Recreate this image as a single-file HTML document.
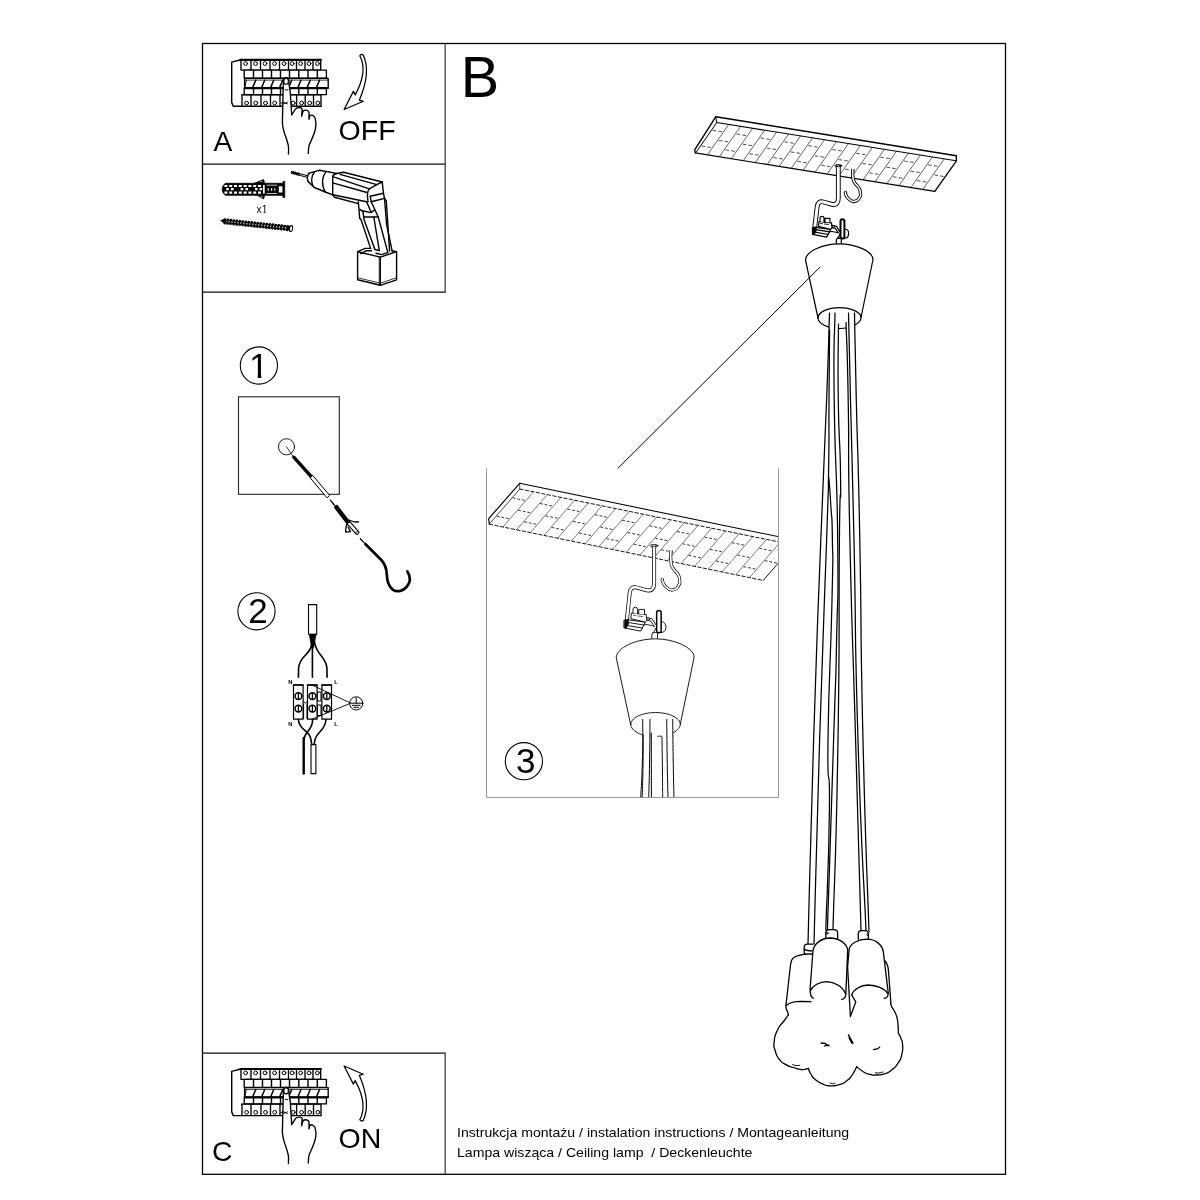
<!DOCTYPE html>
<html lang="pl"><head><meta charset="utf-8"><title>Instrukcja montażu</title>
<style>
html,body{margin:0;padding:0;background:#fff;}
body{width:1200px;height:1200px;overflow:hidden;font-family:"Liberation Sans",sans-serif;}
svg{display:block;position:absolute;left:0;top:0;filter:grayscale(1);}
svg text{font-family:"Liberation Sans",sans-serif;fill:#000;}
.k{fill:none;stroke:#000;stroke-linecap:round;stroke-linejoin:round;}
.w{fill:#fff;stroke:#000;stroke-linecap:round;stroke-linejoin:round;}
.b{fill:#000;stroke:#000;stroke-linejoin:round;}
</style></head><body>
<svg width="1200" height="1200" viewBox="0 0 1200 1200">
<!-- p_frame -->
<rect x="202.5" y="43.5" width="803" height="1130.8" fill="none" stroke="#000" stroke-width="1.3"/>
<path d="M202.5 164.2H445.2M202.5 292.2H445.8M202.5 1053.2H445.8" fill="none" stroke="#111" stroke-width="1.2"/>
<path d="M445.2 43.5V292.6M445.2 1053.2V1174" fill="none" stroke="#444" stroke-width="1.3"/>
<text x="213.5" y="150.5" font-size="28.2">A</text>
<text x="338.6" y="139.8" font-size="28.5">OFF</text>
<text x="212" y="1161.1" font-size="28.3">C</text>
<text x="338.6" y="1147.9" font-size="28.5">ON</text>
<text x="460.7" y="97.1" font-size="57.6">B</text>
<text x="457" y="1137.3" font-size="13.3" textLength="392.2" lengthAdjust="spacingAndGlyphs">Instrukcja montażu / instalation instructions / Montageanleitung</text>
<text x="457" y="1156.6" font-size="13.3" textLength="295.4" lengthAdjust="spacingAndGlyphs" xml:space="preserve">Lampa wisząca / Ceiling lamp  / Deckenleuchte</text>
<!-- p_breaker -->
<g transform="translate(0,0)">
<path class="k" stroke-width="1.4" d="M241 59.7 L231.7 62.1 L231.7 102.6 L233.3 106.3 L321 106.3"/>
<rect class="w" stroke-width="1.35" x="241" y="60" width="79.7" height="10.1"/>
<path class="k" stroke-width="2" d="M240.3 59.7H320.9"/>
<path class="k" stroke-width="1.35" d="M251 60V70M260.5 60V70M270 60V70M279.5 60V70M288.5 60V70M296.5 60V70M305 60V70M313 60V70"/>
<circle class="w" stroke-width="1" cx="245.6" cy="63.6" r="1.9"/>
<circle class="w" stroke-width="1" cx="255.6" cy="63.6" r="1.9"/>
<circle class="w" stroke-width="1" cx="265" cy="63.6" r="1.9"/>
<circle class="w" stroke-width="1" cx="274.6" cy="63.6" r="1.9"/>
<circle class="w" stroke-width="1" cx="284" cy="63.6" r="1.9"/>
<circle class="w" stroke-width="1" cx="292.2" cy="63.6" r="1.9"/>
<circle class="w" stroke-width="1" cx="300.6" cy="63.6" r="1.9"/>
<circle class="w" stroke-width="1" cx="309" cy="63.6" r="1.9"/>
<circle class="w" stroke-width="1" cx="317.4" cy="63.6" r="1.9"/>
<rect class="w" stroke-width="1.35" x="244.2" y="70.1" width="82.2" height="8"/>
<path class="k" stroke-width="1.4" d="M253.5 70.5V78M262.5 70.5V78M271.5 70.5V78M280.5 70.5V78M289.5 70.5V78M298.8 70.5V78M308 70.5V78M317.3 70.5V78"/>
<rect class="w" stroke-width="1.35" x="244.6" y="78.3" width="83.6" height="9.6"/>
<path class="k" stroke-width="0.8" stroke="#555" d="M245 80.1H328"/>
<path class="k" stroke-width="1.5" d="M255.7 80.2L252.7 87.4M264.7 80.2L261.7 87.4M273.7 80.2L270.7 87.4M282.7 80.2L279.7 87.4M291.7 80.2L288.7 87.4M301.0 80.2L298.0 87.4M310.2 80.2L307.2 87.4M319.5 80.2L316.5 87.4"/>
<path class="k" stroke-width="1" d="M246.3 80.2L244.8 87.4"/>
<path class="k" stroke-width="1.9" d="M244.6 87.9H328"/>
<rect class="w" stroke-width="1.35" x="244.2" y="88.6" width="82.2" height="6"/>
<path class="k" stroke-width="1.4" d="M253.5 89V94.4M262.5 89V94.4M271.5 89V94.4M280.5 89V94.4M289.5 89V94.4M298.8 89V94.4M308 89V94.4M317.3 89V94.4"/>
<path class="k" stroke-width="1.35" d="M241.6 94.8H321V106.3"/>
<path class="k" stroke-width="1.35" d="M242 95V106M251 95V106M261 95V106M270.5 95V106M280 95V106M289.5 95V106M296.6 95V106M305.2 95V106M313.5 95V106"/>
<circle class="w" stroke-width="1" cx="246.6" cy="103" r="1.9"/>
<circle class="w" stroke-width="1" cx="255.7" cy="103" r="1.9"/>
<circle class="w" stroke-width="1" cx="265.5" cy="103" r="1.9"/>
<circle class="w" stroke-width="1" cx="274.7" cy="103" r="1.9"/>
<circle class="w" stroke-width="1" cx="284.2" cy="103" r="1.9"/>
<circle class="w" stroke-width="1" cx="293.2" cy="103" r="1.9"/>
<circle class="w" stroke-width="1" cx="301.6" cy="103" r="1.9"/>
<circle class="w" stroke-width="1" cx="309.7" cy="103" r="1.9"/>
<circle class="w" stroke-width="1" cx="317.9" cy="103" r="1.9"/>
</g>
<g transform="translate(0,0)">
<path class="w" stroke-width="1.35" d="M288.4 154 C288.9 147 288.6 145.5 286.5 139 C284.5 133 282.4 129 282.4 122 L283.3 84 C283.3 75.3 289 75.3 289 84 L290.3 92.5 L291.7 115 L295.5 109 C297.5 107.2 301 106.8 302.2 109 L301.6 116.3 L303 111.3 C304.5 109.6 307.6 109.8 309 112 L309 119.3 L309.8 115.7 C311.5 114.3 314 115.6 315 118 C316 121 316.3 124.5 315.6 128 C314.5 134 311 141 309.2 145 C308.3 148 308.3 150 308.3 153.4"/>
<ellipse class="w" stroke-width="1.1" cx="286.1" cy="81.2" rx="2.3" ry="3.1"/>
<path class="k" stroke-width="1" d="M285.2 89.8Q286.6 90.6 288 89.8"/>
<path class="k" stroke-width="0.9" d="M283.6 102.3l3.8 1.5m0-1.5l-3.8 1.5M282.3 103h-1.2"/>
</g>
<path class="w" stroke-width="1.25" d="M359.8 55.8 Q361.4 53.4 363.3 55.3 Q371.3 72.3 359.3 100.2 L363.3 101.3 L344.1 109.5 L353.4 91.4 L355.2 94.9 Q368.1 71.3 359.8 55.8 Z"/>
<g transform="translate(0,1009.3)">
<path class="k" stroke-width="1.4" d="M241 59.7 L231.7 62.1 L231.7 102.6 L233.3 106.3 L321 106.3"/>
<rect class="w" stroke-width="1.35" x="241" y="60" width="79.7" height="10.1"/>
<path class="k" stroke-width="2" d="M240.3 59.7H320.9"/>
<path class="k" stroke-width="1.35" d="M251 60V70M260.5 60V70M270 60V70M279.5 60V70M288.5 60V70M296.5 60V70M305 60V70M313 60V70"/>
<circle class="w" stroke-width="1" cx="245.6" cy="63.6" r="1.9"/>
<circle class="w" stroke-width="1" cx="255.6" cy="63.6" r="1.9"/>
<circle class="w" stroke-width="1" cx="265" cy="63.6" r="1.9"/>
<circle class="w" stroke-width="1" cx="274.6" cy="63.6" r="1.9"/>
<circle class="w" stroke-width="1" cx="284" cy="63.6" r="1.9"/>
<circle class="w" stroke-width="1" cx="292.2" cy="63.6" r="1.9"/>
<circle class="w" stroke-width="1" cx="300.6" cy="63.6" r="1.9"/>
<circle class="w" stroke-width="1" cx="309" cy="63.6" r="1.9"/>
<circle class="w" stroke-width="1" cx="317.4" cy="63.6" r="1.9"/>
<rect class="w" stroke-width="1.35" x="244.2" y="70.1" width="82.2" height="8"/>
<path class="k" stroke-width="1.4" d="M253.5 70.5V78M262.5 70.5V78M271.5 70.5V78M280.5 70.5V78M289.5 70.5V78M298.8 70.5V78M308 70.5V78M317.3 70.5V78"/>
<rect class="w" stroke-width="1.35" x="244.6" y="78.3" width="83.6" height="9.6"/>
<path class="k" stroke-width="0.8" stroke="#555" d="M245 80.1H328"/>
<path class="k" stroke-width="1.5" d="M255.7 80.2L252.7 87.4M264.7 80.2L261.7 87.4M273.7 80.2L270.7 87.4M282.7 80.2L279.7 87.4M291.7 80.2L288.7 87.4M301.0 80.2L298.0 87.4M310.2 80.2L307.2 87.4M319.5 80.2L316.5 87.4"/>
<path class="k" stroke-width="1" d="M246.3 80.2L244.8 87.4"/>
<path class="k" stroke-width="1.9" d="M244.6 87.9H328"/>
<rect class="w" stroke-width="1.35" x="244.2" y="88.6" width="82.2" height="6"/>
<path class="k" stroke-width="1.4" d="M253.5 89V94.4M262.5 89V94.4M271.5 89V94.4M280.5 89V94.4M289.5 89V94.4M298.8 89V94.4M308 89V94.4M317.3 89V94.4"/>
<path class="k" stroke-width="1.35" d="M241.6 94.8H321V106.3"/>
<path class="k" stroke-width="1.35" d="M242 95V106M251 95V106M261 95V106M270.5 95V106M280 95V106M289.5 95V106M296.6 95V106M305.2 95V106M313.5 95V106"/>
<circle class="w" stroke-width="1" cx="246.6" cy="103" r="1.9"/>
<circle class="w" stroke-width="1" cx="255.7" cy="103" r="1.9"/>
<circle class="w" stroke-width="1" cx="265.5" cy="103" r="1.9"/>
<circle class="w" stroke-width="1" cx="274.7" cy="103" r="1.9"/>
<circle class="w" stroke-width="1" cx="284.2" cy="103" r="1.9"/>
<circle class="w" stroke-width="1" cx="293.2" cy="103" r="1.9"/>
<circle class="w" stroke-width="1" cx="301.6" cy="103" r="1.9"/>
<circle class="w" stroke-width="1" cx="309.7" cy="103" r="1.9"/>
<circle class="w" stroke-width="1" cx="317.9" cy="103" r="1.9"/>
</g>
<g transform="translate(0,1009.6)">
<path class="w" stroke-width="1.35" d="M288.4 154 C288.9 147 288.6 145.5 286.5 139 C284.5 133 282.4 129 282.4 122 L283.3 84 C283.3 75.3 289 75.3 289 84 L290.3 92.5 L291.7 115 L295.5 109 C297.5 107.2 301 106.8 302.2 109 L301.6 116.3 L303 111.3 C304.5 109.6 307.6 109.8 309 112 L309 119.3 L309.8 115.7 C311.5 114.3 314 115.6 315 118 C316 121 316.3 124.5 315.6 128 C314.5 134 311 141 309.2 145 C308.3 148 308.3 150 308.3 153.4"/>
<ellipse class="w" stroke-width="1.1" cx="286.1" cy="81.2" rx="2.3" ry="3.1"/>
<path class="k" stroke-width="1" d="M285.2 89.8Q286.6 90.6 288 89.8"/>
<path class="k" stroke-width="0.9" d="M283.6 102.3l3.8 1.5m0-1.5l-3.8 1.5M282.3 103h-1.2"/>
</g>
<path class="w" stroke-width="1.25" d="M359.8 55.8 Q361.4 53.4 363.3 55.3 Q371.3 72.3 359.3 100.2 L363.3 101.3 L344.1 109.5 L353.4 91.4 L355.2 94.9 Q368.1 71.3 359.8 55.8 Z" transform="matrix(1 0 0 -1 0 1175.5)"/>
<!-- p_tools -->
<g>
<path class="b" stroke-width="0.8" d="M225.5 183.3 H283 V195.3 H225.5 C223.5 194 222.2 191.8 222.2 189.3 C222.2 186.8 223.5 184.6 225.5 183.3 Z"/>
<rect class="b" stroke-width="0.6" x="282.9" y="181.4" width="1.9" height="16.1"/>
<path class="b" stroke-width="0.8" d="M254 183.4 L263.7 179.6 L264.6 183.4 Z M257 195.2 L263.7 199 L264.6 195.2 Z"/>
<path fill="#fff" d="M224.4 184.9h3v2.1h-3z M224.4 191.6h3v2.1h-3z M229.2 184.9h3v2.1h-3z M229.2 191.6h3v2.1h-3z M234 184.9h3v2.1h-3z M234 191.6h3v2.1h-3z M238.8 184.9h3v2.1h-3z M238.8 191.6h3v2.1h-3z M243.6 184.9h3v2.1h-3z M243.6 191.6h3v2.1h-3z M248.4 184.9h3v2.1h-3z M248.4 191.6h3v2.1h-3z M253.2 184.9h3v2.1h-3z M253.2 191.6h3v2.1h-3z M258 184.9h3v2.1h-3z M258 191.6h3v2.1h-3z M226.2 188.1h2.6v2.2h-2.6z M231 188.1h2.6v2.2h-2.6z M240.6 188.1h2.6v2.2h-2.6z M245.4 188.1h2.6v2.2h-2.6z M255 188.1h2.6v2.2h-2.6z M259.6 188.1h2.6v2.2h-2.6z M263 184.9h1.7v8.6h-1.7z M278.8 186.3h3.6v6.2h-3.6z M267.6 188.2h1.2v2.6h-1.2z M271 188.2h1.2v2.6h-1.2z M274.3 188.2h1v2.6h-1z M266.6 184.8h10.5v0.8h-10.5z M266.6 193h10.5v0.8h-10.5z M259.5 181.9l2.6-1v1.2z M260 196.6l2.4 1.2v-1.3z"/>
</g>
<clipPath id="cx1"><path d="M250 200 H270 V211.7 H265.5 V214 H263.5 V211.7 H261.8 V214 H250 Z"/></clipPath>
<text x="256.6" y="213.1" font-size="10.2" clip-path="url(#cx1)">x1</text>
<path d="M220.2 220.6 L224.6 218.4 L225 224.2 Z" fill="#000"/>
<path d="M223.8 221.2 L290.6 228.4" fill="none" stroke="#000" stroke-width="6" stroke-dasharray="2.2 0.8"/>
<path d="M224 221.2 L290 228.3" fill="none" stroke="#000" stroke-width="4"/>
<path d="M226 221.4 L288 228.1" fill="none" stroke="#fff" stroke-width="1.6" stroke-dasharray="1 2" stroke-dashoffset="0.5"/>
<ellipse cx="291.1" cy="228.5" rx="1.5" ry="3.1" transform="rotate(8 291.1 228.5)" fill="#fff" stroke="#000" stroke-width="1"/>
<g class="k" stroke-width="1.4">
<path stroke-width="3.2" stroke-dasharray="1.2 0.5" stroke-linecap="butt" d="M291.2 172.2 L299 174.3"/>
<path stroke-width="2" d="M291.8 172.4 L298.7 174.2"/>
<path stroke-width="1" d="M298.7 173.4 L307.6 175.7 M298.4 175 L307.3 177.4"/>
<path d="M308.6 173.3 L318.9 170.3 L329 171.9"/>
<path d="M308 181.6 L314.3 187.5 L325.3 192"/>
<path d="M309.3 173.2 C306.8 175.5 306.8 179.5 308.6 182"/>
<path d="M314.3 172.2 C310.8 176.5 311 183 313.5 187"/>
<path d="M326.2 171.6 C321.5 177 321.5 186 325.3 192"/>
<path d="M329 171.9 L336.5 173.5"/>
<path d="M325.3 192 L332.7 194.8"/>
<path d="M336.5 173.5 C333 174.5 332.7 175.5 332.7 176.8 V194.8 L334.5 197.2 L358.3 203.6"/>
<path d="M332.7 176.6 L369.3 188.8"/>
<path d="M332.7 182.9 L367 192.5"/>
<path d="M332.7 194.8 L366.6 201.8"/>
<path d="M336.5 173.5 L343.7 172.3 L382.2 182"/>
<path d="M340 174.4 L376.8 184.6"/>
<path d="M369.3 188.8 L376.8 184.6 L382.2 182"/>
<path d="M369.3 188.8 C367.6 191 367.3 193 367.4 195.5 L368 201.8"/>
<path d="M382.2 182 L383.5 193.4 L384.5 198.5 L386.3 201"/>
<path d="M370.2 196.2 L383.5 193.2"/>
<path d="M371.2 201.7 L384.5 198.4"/>
<path d="M370.2 196.2 L371.2 201.7"/>
<path d="M358.3 201.8 L359.7 218.2"/>
<path d="M366.6 201.8 L371.2 212.4 L374.8 209.9"/>
<path d="M362 210.8 L371.2 212.6"/>
<path d="M359.8 209.4 L362 210.8"/>
<path d="M371.2 201.7 L378.2 217"/>
<path d="M359.7 218.2 L361 219.5 L370.6 248.4"/>
<path d="M363 211.6 L364 219.5 L374.9 249.5"/>
<path d="M364 217 L378.2 217"/>
<path d="M373.8 217 L379.3 250.6"/>
<path d="M378.2 217 L387.9 252.6"/>
<path d="M384.5 198.5 L386.6 224.6 L392.3 251.7"/>
<path d="M386.3 201 L389.6 251"/>
<path d="M370.6 248.4 L365.2 248.4 L357.6 251.7 L380.3 257.1 L396.6 251.7 L392.3 250.6"/>
<path d="M360.5 253.6 L366.6 250.6 L371.5 250.8 M374.9 249.5 L379.3 250.6 M376 253.3 L381.5 254.6 L387.5 252.6"/>
<path d="M357.6 251.7 V279.8 L380.3 285.3 L396.6 279.8 V251.7"/>
<path d="M380.3 257.1 V285.3"/>
<path stroke-width="0.8" d="M379.2 257 V285 M357.8 277.8 L380.3 283.2 L396.4 277.8"/>
</g>
<!-- p_steps -->
<circle class="k" stroke-width="1.1" cx="258.9" cy="365.5" r="18.6"/>
<clipPath id="c1"><path d="M245 348 H275 V374.7 H261.3 V379 H257.7 V374.7 H245 Z"/></clipPath>
<text x="258.7" y="377.6" font-size="35.2" text-anchor="middle" clip-path="url(#c1)">1</text>
<rect x="238.5" y="396.8" width="100.8" height="97.5" fill="none" stroke="#222" stroke-width="1.1"/>
<circle class="k" stroke-width="0.9" cx="286.5" cy="446.8" r="8.1"/>
<path class="k" stroke-width="0.8" d="M286.5 446.8 L292.8 456"/>
<path class="k" stroke-width="3.4" d="M293.8 457.2 L311.5 476.8"/>
<path class="w" stroke-width="1" d="M310.3 477.4 L312.8 475.4 L329.6 495.4 L327.4 497.6 Z"/>
<path class="k" stroke-width="1.3" d="M330.3 500.2 L334.3 505"/>
<path class="k" stroke-width="4.4" stroke-dasharray="1.4 0.6" stroke-linecap="butt" d="M336.4 507.2 L348 522.4"/>
<path class="k" stroke-width="3" d="M336.6 507.4 L348 522.4"/>
<path class="w" stroke-width="1.1" d="M347 523.6 L349.6 521.4 L358.6 531.6 C359.6 533.2 357.4 535 356 533.8 Z"/>
<ellipse class="w" stroke-width="0.9" cx="357.3" cy="532.8" rx="1.7" ry="1.3" transform="rotate(-40 357.3 532.8)"/>
<path class="k" stroke-width="1.3" d="M349 520 C352 521.5 355 522.5 358.6 521.8 M347 523.5 C346 526.5 345.6 529 345.6 532 L350.5 531.6 L348 527"/>
<path class="k" stroke-width="1.3" d="M360.3 538.8 L364 542.6"/>
<path class="k" stroke-width="2.7" d="M365.3 544 L381.3 560 C385 564 386.6 569 386.8 574.5 C387 581 388.5 586.5 393 589.8 C397.5 592.6 403 591 406.5 587 C410 583 411.3 577.5 407.4 571.4"/>
<circle class="k" stroke-width="1.1" cx="256.5" cy="611.3" r="18.6"/>
<text x="258" y="622.7" font-size="35" text-anchor="middle">2</text>
<rect class="w" stroke-width="1.1" x="308.5" y="604.6" width="8.2" height="29.6"/>
<path class="b" stroke-width="0.6" d="M309.3 634.3 H316.2 L313.6 648 H311.4 Z"/>
<path class="k" stroke-width="1.6" d="M311.3 646 C309.5 655 299.6 656 298.6 668 L298.4 677.2"/>
<path class="k" stroke-width="1.6" d="M312.4 646 V677.2"/>
<path class="k" stroke-width="1.6" d="M314.6 642 C316 655 326 656 326.9 668 L327.1 677.2"/>
<rect class="w" stroke-width="1.2" x="293.5" y="685" width="9.6" height="34.2"/>
<path class="k" stroke-width="1.6" d="M293.5 685 H303.1"/>
<rect class="w" stroke-width="1.2" x="307.5" y="685" width="9.6" height="34.2"/>
<path class="k" stroke-width="1.6" d="M307.5 685 H317.1"/>
<rect class="w" stroke-width="1.2" x="321.9" y="685" width="9.6" height="34.2"/>
<path class="k" stroke-width="1.6" d="M321.9 685 H331.5"/>
<path class="k" stroke-width="1" d="M303.6 701.5 l1.8 1.6 l1.8 -1.6 M317.8 692 h3.2 v9 h-3.2 z M317.8 705 h3.2 v10.5 h-3.2 z M303.6 704 v14.5 M307 704 v14.5"/>
<path class="k" stroke-width="0.9" d="M311.9 685 L349.6 702.6 M311.9 719.2 L349.6 703.6"/>
<circle class="w" stroke-width="1.5" cx="298.4" cy="696.1" r="3.4"/>
<path class="k" stroke-width="1.3" d="M298.4 692.9 V699.3000000000001"/>
<circle class="w" stroke-width="1.5" cx="298.4" cy="708.6" r="3.4"/>
<path class="k" stroke-width="1.3" d="M298.4 705.4 V711.8000000000001"/>
<circle class="w" stroke-width="1.5" cx="312.4" cy="696.1" r="3.4"/>
<path class="k" stroke-width="1.3" d="M312.4 692.9 V699.3000000000001"/>
<circle class="w" stroke-width="1.5" cx="312.4" cy="708.6" r="3.4"/>
<path class="k" stroke-width="1.3" d="M312.4 705.4 V711.8000000000001"/>
<circle class="w" stroke-width="1.5" cx="326.8" cy="696.1" r="3.4"/>
<path class="k" stroke-width="1.3" d="M326.8 692.9 V699.3000000000001"/>
<circle class="w" stroke-width="1.5" cx="326.8" cy="708.6" r="3.4"/>
<path class="k" stroke-width="1.3" d="M326.8 705.4 V711.8000000000001"/>
<circle class="w" stroke-width="1" cx="356.2" cy="703.4" r="6.6"/>
<path class="k" stroke-width="1" d="M349.6 703.2 H362.8 M356.2 698 V703.2 M352.2 705.3 H360.2 M353.8 707.3 H358.6"/>
<text x="288.2" y="684.4" font-size="5.8" font-weight="bold">N</text>
<text x="334.2" y="684.4" font-size="5.8" font-weight="bold">L</text>
<text x="288.2" y="725.8" font-size="5.8" font-weight="bold">N</text>
<text x="334.2" y="725.8" font-size="5.8" font-weight="bold">L</text>
<path class="k" stroke-width="1.6" d="M298.4 719.8 C299 730 309 730.5 310.6 738 L311.8 744.5"/>
<path class="k" stroke-width="1.6" d="M312.6 719.8 C312.6 731 304.6 731 303.8 740"/>
<path class="k" stroke-width="1.6" d="M325.9 719.8 C325.2 732 316 731 314.6 741.5 L314.2 744.5"/>
<path class="k" stroke-width="2.4" stroke-linecap="butt" d="M303.7 738 V773.6"/>
<rect class="w" stroke-width="1.1" x="311" y="744.6" width="4.9" height="29"/>
<!-- p_lamp -->
<path d="M716.8 122.5 L956.2 160.9 L934.8 191.3 L695.4 152.8 Z" fill="#fff" stroke="none"/>
<path d="M728.8 124.4L707.5 154.7M740.7 126.3L719.4 156.6M752.7 128.3L731.4 158.6M764.7 130.2L743.4 160.5M776.6 132.1L755.4 162.4M788.6 134.0L767.3 164.3M800.6 135.9L779.3 166.2M812.6 137.9L791.3 168.2M824.5 139.8L803.2 170.1M836.5 141.7L815.2 172.0M848.5 143.6L827.2 173.9M860.4 145.5L839.1 175.8M872.4 147.5L851.1 177.8M884.4 149.4L863.1 179.7M896.4 151.3L875.1 181.6M908.3 153.2L887.0 183.5M920.3 155.1L899.0 185.4M932.3 157.1L911.0 187.4M944.2 159.0L922.9 189.3" fill="none" stroke="#222" stroke-width="0.7"/>
<path d="M712.7 130.3L722.2 131.8M701.6 146.0L711.2 147.6M718.9 140.4L728.5 141.9M736.6 134.1L746.2 135.6M725.5 149.9L735.1 151.4M742.8 144.2L752.4 145.7M760.6 137.9L770.1 139.5M749.5 153.7L759.1 155.2M766.8 148.0L776.3 149.6M784.5 141.8L794.1 143.3M773.4 157.5L783.0 159.1M790.7 151.9L800.3 153.4M808.4 145.6L818.0 147.2M797.4 161.4L806.9 162.9M814.7 155.7L824.2 157.3M832.4 149.5L841.9 151.0M821.3 165.2L830.9 166.8M838.6 159.6L848.2 161.1M856.3 153.3L865.9 154.8M845.2 169.1L854.8 170.6M862.5 163.4L872.1 164.9M880.3 157.1L889.8 158.7M869.2 172.9L878.8 174.4M886.5 167.2L896.0 168.8M904.2 161.0L913.8 162.5M893.1 176.7L902.7 178.3M910.4 171.1L920.0 172.6M928.1 164.8L937.7 166.4M917.1 180.6L926.6 182.1M934.4 174.9L943.9 176.5" fill="none" stroke="#222" stroke-width="0.8" stroke-dasharray="3.6 2.2"/>
<path class="k" stroke-width="1.5" d="M715.7 116.8 L956.3 155.7"/>
<path class="k" stroke-width="1.15" d="M716.8 122.5 L956 160.8"/>
<path class="k" stroke-width="1.3" d="M956.3 155.7 V161.2 L934.8 191.4"/>
<path class="k" stroke-width="1.1" d="M934.8 191.4 L695.3 152.9"/>
<path class="k" stroke-width="1.4" d="M715.7 116.8 L694.7 149.8 L695.3 152.9"/>
<path class="k" stroke-width="1" d="M715.7 116.8 L716.8 122.5 L696.2 152.2"/>
<ellipse class="w" stroke-width="0.90" cx="838.3" cy="165.8" rx="3.6" ry="1.2"/>
<path d="M838.3 165.8 V198.5 Q838.3 205.3 832 204.4 L823.5 202 Q817.9 200.6 817.2 206.5 L814.6 228.6" fill="none" stroke="#000" stroke-width="4.80" stroke-linejoin="round"/>
<path d="M838.3 165.8 V198.5 Q838.3 205.3 832 204.4 L823.5 202 Q817.9 200.6 817.2 206.5 L814.6 228.6" fill="none" stroke="#fff" stroke-width="2.9" stroke-linejoin="round"/>
<ellipse class="w" stroke-width="0.90" cx="838.3" cy="165.8" rx="2.2" ry="0.8"/>
<path d="M852.9 168.8 C852.9 171.4 852.3 172.1 852.9 176.7 C853.5 181.3 852.7 178.9 854.6 182.5 C856.5 186.1 856.7 184.2 858.6 187.5 C860.5 190.8 860.0 189.2 860.3 192.5 C860.6 195.8 861.4 194.6 859.6 197.5 C857.8 200.4 858.3 200.6 855.0 201.3 C851.7 202.0 852.5 201.5 849.6 199.6 C846.7 197.7 847.7 198.0 846.3 195.6 C844.9 193.2 845.7 193.4 845.4 192.3" fill="none" stroke="#000" stroke-width="3.30" stroke-linecap="butt"/>
<circle cx="845.4" cy="192.3" r="1.65" fill="#000"/>
<path d="M852.9 168.3 L852.9 168.8 " fill="none"/>
<path d="M852.9 168.8 C852.9 171.4 852.3 172.1 852.9 176.7 C853.5 181.3 852.7 178.9 854.6 182.5 C856.5 186.1 856.7 184.2 858.6 187.5 C860.5 190.8 860.0 189.2 860.3 192.5 C860.6 195.8 861.4 194.6 859.6 197.5 C857.8 200.4 858.3 200.6 855.0 201.3 C851.7 202.0 852.5 201.5 849.6 199.6 C846.7 197.7 847.7 198.0 846.3 195.6 C844.9 193.2 845.7 193.4 845.4 192.3" fill="none" stroke="#fff" stroke-width="1.5" stroke-linecap="square"/>
<g class="w" stroke-width="1.2">
<path d="M815.8 227.3 L830.6 229.3 L829.6 231.6 L826.6 237.1 L814 234.6 L815.6 231 Z"/>
<path d="M815.7 229.6 L829.9 231.9 M815 232.2 L828.4 234.5" fill="none"/>
<path d="M819 221.5 L831.5 222.8 L832 227.9 L830.6 229.3 L818.5 226.4 Z"/>
<path d="M820 221.6 V218.3 Q820 216.4 822 216.4 Q824 216.4 824 218.3 V222 M825 222.1 V218.3 H830 V222.6"/>
<path d="M820.5 223.5 L822.6 223.7 M824.4 224 L828.6 224.5" fill="none" stroke-width="0.84"/>
<path d="M812.5 227.6 L815.8 227.1 L815.8 231 L814 234.6 L812.5 234.4 Z" fill="#000"/>
</g>
<path class="k" stroke-width="1.14" d="M832 225.4 L836.6 226.4 L839.6 231.4 M832 227.6 L835.4 228.4 L838.4 233 M830.4 231.2 L836 232.2 L838.4 233"/>
<circle class="w" stroke-width="0.96" cx="833.6" cy="226.6" r="0.9"/>
<path class="w" stroke-width="1.2" d="M836.3 244.2 V240.5 Q836.5 238.6 838.3 237.6 L840 234.2 L841.3 235 V244.2"/>
<path class="k" stroke-width="1.08" d="M837.2 238.4 H841.2"/>
<path class="w" stroke-width="1.2" d="M845.3 229 C849.7 229.4 849.7 237.6 845.3 238.2 L843.6 238.2 V229 Z"/>
<rect x="840.5" y="219.2" width="3.9" height="19.4" rx="1.95" fill="#fff" stroke="#000" stroke-width="2.00"/>
<path class="w" stroke-width="1.2" d="M818 318 L805.5 260 C805.8 251.5 822.5 243.8 839.3 243.8 C856 243.8 872.6 251.5 873 259.5 L861 317.5 C861 323 851.5 328.5 839.5 328.5 C827.5 328.5 818 323.5 818 318 Z"/>
<path class="k" stroke-width="1.2" d="M818 318 C818 312.3 827.5 307.6 839.5 307.6 C851.5 307.6 861 312.3 861 317.5"/>
<path d="M829.5 313 H838.4 V324 L838.6 336 H828.6 Z M846 322.5 L848.4 313 H854.5 L855 336 H846.4 Z" fill="#fff" stroke="none"/>
<path class="k" stroke-width="1.25" d="M829.5 313.0 C828.5 342.0 829.5 324.3 826.6 400.0 C823.7 475.7 825.1 426.7 820.8 540.0 C816.5 653.3 817.9 605.3 813.6 740.0 C809.3 874.7 809.9 876.0 808.0 944.0"/>
<path class="k" stroke-width="1.25" d="M829.6 330.0 C829.4 353.3 829.3 353.3 829.0 400.0 C828.7 446.7 829.4 423.3 828.6 470.0 C827.8 516.7 829.6 450.0 826.6 540.0 C823.6 630.0 823.8 605.3 819.6 740.0 C815.4 874.7 815.9 876.0 814.0 944.0"/>
<path class="k" stroke-width="1.25" d="M828.9 478.0 C829.5 487.0 829.6 484.3 830.8 505.0 C832.0 525.7 832.0 508.3 832.4 540.0 C832.8 571.7 833.5 533.3 832.0 600.0 C830.5 666.7 828.9 670.0 828.0 740.0 C827.1 810.0 830.1 746.7 829.4 810.0 C828.7 873.3 827.0 890.0 825.8 930.0"/>
<path class="k" stroke-width="1.25" d="M835.0 313.0 C834.7 342.0 833.3 324.3 834.2 400.0 C835.1 475.7 836.9 460.0 837.7 540.0 C838.5 620.0 838.0 573.3 836.6 640.0 C835.2 706.7 836.7 643.3 833.6 740.0 C830.5 836.7 829.5 866.7 827.4 930.0"/>
<path class="k" stroke-width="1.25" d="M838.5 324.0 C838.4 349.3 837.6 348.0 838.3 400.0 C839.0 452.0 840.2 433.3 840.6 480.0 C841.0 526.7 840.3 453.3 839.4 540.0 C838.5 626.7 840.1 610.3 838.0 740.0 C835.9 869.7 834.7 866.0 833.0 929.0"/>
<path class="k" stroke-width="1.25" d="M846.0 322.5 C846.7 348.3 846.9 327.5 848.2 400.0 C849.5 472.5 847.4 426.7 849.9 540.0 C852.4 653.3 851.9 610.0 855.6 740.0 C859.3 870.0 859.2 866.7 861.0 930.0"/>
<path class="k" stroke-width="1.25" d="M848.5 313.0 C849.2 342.0 848.7 324.3 850.5 400.0 C852.3 475.7 851.5 426.7 854.0 540.0 C856.5 653.3 854.0 610.0 858.0 740.0 C862.0 870.0 863.3 866.7 866.0 930.0"/>
<path class="k" stroke-width="1.25" d="M854.5 313.0 C855.1 342.0 854.5 324.3 856.3 400.0 C858.1 475.7 857.6 426.7 859.8 540.0 C862.0 653.3 859.9 609.3 863.0 740.0 C866.1 870.7 867.0 868.0 869.0 932.0"/>
<g fill="#fff" stroke="none">
<path d="M813 944.3 H806 L804.2 946.5 V952.5 L805 954.2 L791.7 960 L785.8 1006.7 L788.4 1015 L812 1015 Z"/>
<path d="M788.3 1015.0 C786.9 1017.0 787.6 1016.0 784.0 1021.0 C780.4 1026.0 780.8 1023.1 777.5 1030.0 C774.2 1036.9 774.9 1034.7 774.2 1041.7 C773.5 1048.7 773.5 1045.1 775.3 1051.0 C777.1 1056.9 775.9 1055.0 779.5 1059.5 C783.1 1064.0 781.4 1061.9 786.0 1064.6 C790.6 1067.3 788.1 1065.8 793.3 1067.5 C798.5 1069.2 796.7 1069.3 801.7 1069.6 C806.7 1069.9 806.1 1068.7 808.3 1068.3 L812 1015 Z"/>
<path d="M808.3 1068.3 C809.1 1070.2 808.6 1070.4 810.8 1074.0 C813.0 1077.6 811.3 1076.0 815.0 1079.2 C818.7 1082.4 817.0 1081.4 822.0 1083.6 C827.0 1085.8 824.3 1085.5 830.0 1085.8 C835.7 1086.1 833.4 1086.3 839.0 1084.6 C844.6 1082.9 842.2 1084.2 846.7 1080.8 C851.2 1077.4 849.2 1079.2 852.5 1074.5 C855.8 1069.8 855.3 1069.3 856.7 1066.7 L850 1010 L812 1000 Z"/>
<path d="M856.7 1066.7 C858.9 1068.4 858.9 1069.1 863.3 1071.7 C867.7 1074.3 865.5 1073.3 870.0 1074.4 C874.5 1075.5 871.7 1075.3 876.7 1075.0 C881.7 1074.7 880.0 1075.3 885.0 1073.6 C890.0 1071.9 887.4 1073.4 891.7 1070.0 C896.0 1066.6 894.5 1068.5 897.8 1063.5 C901.1 1058.5 900.1 1061.2 901.7 1055.0 C903.3 1048.8 902.8 1050.5 902.6 1045.0 C902.4 1039.5 902.3 1042.3 901.0 1038.5 C899.7 1034.7 899.4 1035.2 898.6 1033.6 L890 1003 L852 1003 Z"/>
<path d="M898.3 1033.0 C898.2 1030.3 898.5 1030.4 898.0 1025.0 C897.5 1019.6 898.0 1021.5 896.7 1016.7 C895.4 1011.9 895.7 1013.8 894.0 1010.5 C892.3 1007.2 892.8 1009.1 891.7 1006.7 C890.6 1004.3 891.0 1004.4 890.6 1003.3 L852 1003 L856 1040 Z"/>
<path d="M884.6 960.5 L888.4 970 L890.9 1003.3 L880 1003 Z"/>
<path d="M858.3 939 V931 H868.3 V939.4 Z"/>
<path d="M849.2 948.6 C851 943.5 858 939.3 866.7 939.2 C875 939.3 882 944 883.3 951.7 L888.3 993.3 L886.6 997.6 L855.8 1001.8 L850.4 1016.5 L847.6 966.7 Z"/>
<path d="M825.8 937.6 V930 H837.5 V937.8 Z"/>
<path d="M813 950.5 C814 944 821 938.2 830 938 C839.5 938.2 846.8 943.5 847.7 950 L845.8 995 L841.7 999.5 L813.3 998.3 L810 990 Z"/>
<path d="M813.5 998 L841.5 999 L850 1015 L855 1001.5 L884 998 L889.5 1004.5 L893 1012 L896 1030 L880 1060 L857 1065.5 L845 1072 L820 1074 L808.6 1066.8 L800 1060 L790 1016.5 Z"/>
</g>
<g class="k" stroke-width="1.3">
<path d="M813 944.1 H807.4 Q804.2 944.1 804.2 947.2 V952.3 C804.2 953.6 805 954.2 806 954.2 M804.4 949 C805.5 950.3 808 950.8 812 950.8"/>
<path d="M812 954 L805 954.2 C799 955 793.5 956.5 791.7 960 L790.6 964 L785.8 1006.7 C786.3 1009.5 787 1011 787.6 1011.8 L788.4 1015"/>
<path d="M786.3 1005.6 C789 1002.6 795 1001.4 801 1001.3 L811 1001.7"/>
<path d="M788.3 1015.0 C786.9 1017.0 787.6 1016.0 784.0 1021.0 C780.4 1026.0 780.8 1023.1 777.5 1030.0 C774.2 1036.9 774.9 1034.7 774.2 1041.7 C773.5 1048.7 773.5 1045.1 775.3 1051.0 C777.1 1056.9 775.9 1055.0 779.5 1059.5 C783.1 1064.0 781.4 1061.9 786.0 1064.6 C790.6 1067.3 788.1 1065.8 793.3 1067.5 C798.5 1069.2 796.7 1069.3 801.7 1069.6 C806.7 1069.9 806.1 1068.7 808.3 1068.3"/>
<path d="M808.3 1068.3 C809.1 1070.2 808.6 1070.4 810.8 1074.0 C813.0 1077.6 811.3 1076.0 815.0 1079.2 C818.7 1082.4 817.0 1081.4 822.0 1083.6 C827.0 1085.8 824.3 1085.5 830.0 1085.8 C835.7 1086.1 833.4 1086.3 839.0 1084.6 C844.6 1082.9 842.2 1084.2 846.7 1080.8 C851.2 1077.4 849.2 1079.2 852.5 1074.5 C855.8 1069.8 855.3 1069.3 856.7 1066.7"/>
<path d="M856.7 1066.7 C858.9 1068.4 858.9 1069.1 863.3 1071.7 C867.7 1074.3 865.5 1073.3 870.0 1074.4 C874.5 1075.5 871.7 1075.3 876.7 1075.0 C881.7 1074.7 880.0 1075.3 885.0 1073.6 C890.0 1071.9 887.4 1073.4 891.7 1070.0 C896.0 1066.6 894.5 1068.5 897.8 1063.5 C901.1 1058.5 900.1 1061.2 901.7 1055.0 C903.3 1048.8 902.8 1050.5 902.6 1045.0 C902.4 1039.5 902.3 1042.3 901.0 1038.5 C899.7 1034.7 899.4 1035.2 898.6 1033.6"/>
<path d="M898.3 1033.0 C898.2 1030.3 898.5 1030.4 898.0 1025.0 C897.5 1019.6 898.0 1021.5 896.7 1016.7 C895.4 1011.9 895.7 1013.8 894.0 1010.5 C892.3 1007.2 892.8 1009.1 891.7 1006.7 C890.6 1004.3 891.0 1004.4 890.6 1003.3"/>
<path d="M884.6 960.5 C886.6 962.5 888 966 888.4 970 L890.9 1003.3"/>
<path d="M858.3 939.6 V934 Q858.3 930.6 861.6 930.6 H865 Q868.4 930.6 868.4 934 V939.6"/>
<circle cx="867.6" cy="934.6" r="0.9" stroke-width="0.8"/>
<path d="M847.6 966.7 L849.2 948.6 C851 943.5 858 939.3 866.7 939.2 C875 939.3 882 944 883.3 951.7 L888.3 993.3 C888 995.8 887.4 997 886.6 997.6 L884.2 998.3"/>
<path d="M851.7 995 C853.6 989.5 860.5 985.2 868.3 985 C876.5 985.2 884.5 988.6 887.6 993.3"/>
<path d="M847.6 966.7 L850.4 1016.5 L855.8 1001.8 L851.7 995"/>
<path d="M825.8 938.2 V933 Q825.8 929.7 829.4 929.7 H834 Q837.6 929.7 837.6 933.2 V938.4"/>
<circle cx="827" cy="933.2" r="1.1" stroke-width="0.8"/>
<path d="M813.3 998.3 C812 997.6 811.2 996.6 810.8 995.6 L810 990 L813 950.5 C814 944 821 938.2 830 938 C839.5 938.2 846.8 943.5 847.7 950 L845.8 995 C845.3 997 844.6 998 843.8 998.6 L841.7 999.5"/>
<path d="M810.6 990.4 C812.6 985.6 819.5 981.8 826.7 981.7 C834.5 981.9 842.6 986.6 845.3 993.3"/>
<path stroke-width="1.6" d="M848.5 1035 L852.8 1043.2 M849.3 1038 L852 1043"/>
<path d="M821 1043 L825 1043.4 L828.8 1046 M824.5 1045.8 L829 1045.2"/>
<path d="M873.6 1049.6 L878 1048.6 L879.8 1046.9"/>
<path stroke-width="0.9" d="M792.6 1064.6 L796 1065.6 L799.8 1065.3 M830.2 1083 L832.5 1083.8 L835 1083.2 M875.4 1072.8 L879 1073 L883 1072"/>
</g>
<path class="k" stroke-width="1" d="M820 267.2 L618 468.2"/>
<!-- p_inset -->
<clipPath id="ci"><rect x="486.5" y="460" width="292" height="337.4"/></clipPath>
<g clip-path="url(#ci)">
<path d="M533.5 491.8L502.9 527.0M547.2 494.6L516.6 529.8M560.9 497.4L530.3 532.6M574.6 500.2L544.0 535.4M588.3 503.0L557.7 538.2M602.0 505.8L571.4 541.0M615.7 508.6L585.1 543.8M629.4 511.4L598.8 546.6M643.1 514.2L612.5 549.4M656.8 517.0L626.2 552.2M670.6 519.8L640.0 555.0M684.3 522.6L653.7 557.8M698.0 525.4L667.4 560.6M711.7 528.2L681.1 563.4M725.4 531.0L694.8 566.2M739.1 533.8L708.5 569.0M752.8 536.6L722.2 571.8M766.5 539.4L735.9 574.6M780.2 542.2L749.6 577.4" fill="none" stroke="#222" stroke-width="0.6"/>
<path d="M512.7 497.9L525.3 500.5M496.8 516.2L509.4 518.8M518.1 510.2L530.7 512.8M540.1 503.5L552.7 506.1M524.2 521.8L536.8 524.4M545.6 515.8L558.2 518.4M567.5 509.1L580.1 511.7M551.6 527.4L564.2 530.0M573.0 521.4L585.6 524.0M594.9 514.7L607.5 517.3M579.0 533.0L591.6 535.6M600.4 527.0L613.0 529.6M622.3 520.3L634.9 522.9M606.4 538.6L619.0 541.2M627.8 532.6L640.4 535.2M649.7 525.9L662.4 528.5M633.8 544.2L646.4 546.8M655.2 538.2L667.8 540.8M677.2 531.5L689.8 534.1M661.2 549.8L673.9 552.4M682.6 543.8L695.2 546.4M704.6 537.1L717.2 539.7M688.7 555.4L701.3 558.0M710.0 549.4L722.6 552.0M732.0 542.7L744.6 545.3M716.1 561.0L728.7 563.6M737.4 555.0L750.0 557.6M759.4 548.3L772.0 550.9M743.5 566.6L756.1 569.2M764.8 560.6L777.4 563.2" fill="none" stroke="#222" stroke-width="0.9" stroke-dasharray="2.8 1.9"/>
<path class="k" stroke-width="1.05" d="M519.7 483.3 L793.9 539.9"/>
<path class="k" stroke-width="0.9" stroke-dasharray="3.4 2.2" d="M519.8 489 L793.9 545"/>
<path class="k" stroke-width="0.9" stroke-dasharray="3.4 2.2" d="M489.3 524.2 L763.3 580.4"/>
<path class="k" stroke-width="1.2" d="M519.7 483.3 L488.7 518.7 L489.3 524.2"/>
<path class="k" stroke-width="0.7" d="M519.7 483.3 L519.8 489 L490 523.2"/>
<path class="k" stroke-width="0.9" d="M763.3 580.4 L793.9 545 V539.9"/>
<g transform="translate(-314.13 357.28) scale(1.155)">
<ellipse class="w" stroke-width="0.59" cx="838.3" cy="163.2" rx="3.6" ry="1.2"/>
<path d="M838.3 163.2 V195.9 Q838.3 202.70000000000002 832 201.8 L823.5 199.4 Q817.9 198.0 817.2 203.9 L814.6 228.6" fill="none" stroke="#000" stroke-width="3.44" stroke-linejoin="round"/>
<path d="M838.3 163.2 V195.9 Q838.3 202.70000000000002 832 201.8 L823.5 199.4 Q817.9 198.0 817.2 203.9 L814.6 228.6" fill="none" stroke="#fff" stroke-width="2.2" stroke-linejoin="round"/>
<ellipse class="w" stroke-width="0.59" cx="838.3" cy="163.2" rx="2.2" ry="0.8"/>
<path d="M852.9 166.9 C852.9 170.2 852.3 171.5 852.9 176.7 C853.5 181.9 852.7 178.9 854.6 182.5 C856.5 186.1 856.7 184.2 858.6 187.5 C860.5 190.8 860.0 189.2 860.3 192.5 C860.6 195.8 861.4 194.6 859.6 197.5 C857.8 200.4 858.3 200.6 855.0 201.3 C851.7 202.0 852.5 201.5 849.6 199.6 C846.7 197.7 847.7 198.0 846.3 195.6 C844.9 193.2 845.7 193.4 845.4 192.3" fill="none" stroke="#000" stroke-width="2.67" stroke-linecap="butt"/>
<circle cx="845.4" cy="192.3" r="1.33" fill="#000"/>
<path d="M852.9 166.4 L852.9 166.9 " fill="none"/>
<path d="M852.9 166.9 C852.9 170.2 852.3 171.5 852.9 176.7 C853.5 181.9 852.7 178.9 854.6 182.5 C856.5 186.1 856.7 184.2 858.6 187.5 C860.5 190.8 860.0 189.2 860.3 192.5 C860.6 195.8 861.4 194.6 859.6 197.5 C857.8 200.4 858.3 200.6 855.0 201.3 C851.7 202.0 852.5 201.5 849.6 199.6 C846.7 197.7 847.7 198.0 846.3 195.6 C844.9 193.2 845.7 193.4 845.4 192.3" fill="none" stroke="#fff" stroke-width="1.5" stroke-linecap="square"/>
<g class="w" stroke-width="0.78">
<path d="M815.8 227.3 L830.6 229.3 L829.6 231.6 L826.6 237.1 L814 234.6 L815.6 231 Z"/>
<path d="M815.7 229.6 L829.9 231.9 M815 232.2 L828.4 234.5" fill="none"/>
<path d="M819 221.5 L831.5 222.8 L832 227.9 L830.6 229.3 L818.5 226.4 Z"/>
<path d="M820 221.6 V218.3 Q820 216.4 822 216.4 Q824 216.4 824 218.3 V222 M825 222.1 V218.3 H830 V222.6"/>
<path d="M820.5 223.5 L822.6 223.7 M824.4 224 L828.6 224.5" fill="none" stroke-width="0.55"/>
<path d="M812.5 227.6 L815.8 227.1 L815.8 231 L814 234.6 L812.5 234.4 Z" fill="#000"/>
</g>
<path class="k" stroke-width="0.74" d="M832 225.4 L836.6 226.4 L839.6 231.4 M832 227.6 L835.4 228.4 L838.4 233 M830.4 231.2 L836 232.2 L838.4 233"/>
<circle class="w" stroke-width="0.62" cx="833.6" cy="226.6" r="0.9"/>
<path class="w" stroke-width="0.78" d="M836.3 244.2 V240.5 Q836.5 238.6 838.3 237.6 L840 234.2 L841.3 235 V244.2"/>
<path class="k" stroke-width="0.70" d="M837.2 238.4 H841.2"/>
<path class="w" stroke-width="0.78" d="M845.3 229 C849.7 229.4 849.7 237.6 845.3 238.2 L843.6 238.2 V229 Z"/>
<rect x="840.5" y="219.2" width="3.9" height="19.4" rx="1.95" fill="#fff" stroke="#000" stroke-width="1.30"/>
<path class="w" stroke-width="0.78" d="M818 318 L805.5 260 C805.8 251.5 822.5 243.8 839.3 243.8 C856 243.8 872.6 251.5 873 259.5 L861 317.5 C861 323 851.5 328.5 839.5 328.5 C827.5 328.5 818 323.5 818 318 Z"/>
<path class="k" stroke-width="0.78" d="M818 318 C818 312.3 827.5 307.6 839.5 307.6 C851.5 307.6 861 312.3 861 317.5"/>
</g>
<path d="M642.7 719.5 H672.7 L673.2 745 H642.4 Z" fill="#fff" stroke="none"/>
<path class="k" stroke-width="1" d="M642.7 719.5 C642.6 733.0 643.1 734.0 642.4 760.0 C641.7 786.0 641.3 785.0 640.7 797.5"/>
<path class="k" stroke-width="1" d="M643.2 735.0 C643.1 745.0 643.3 744.2 643.0 765.0 C642.7 785.8 642.5 786.7 642.2 797.5"/>
<path class="k" stroke-width="1" d="M650.0 719.5 C649.9 733.0 650.0 734.0 649.6 760.0 C649.2 786.0 649.0 785.0 648.7 797.5"/>
<path class="k" stroke-width="1" d="M651.3 733.0 C651.3 754.5 651.4 776.0 651.4 797.5"/>
<path class="k" stroke-width="1" d="M662.0 737.0 C662.1 748.0 662.2 749.8 662.4 770.0 C662.6 790.2 662.6 788.3 662.7 797.5"/>
<path class="k" stroke-width="1" d="M666.7 719.5 C666.9 733.0 666.8 734.0 667.2 760.0 C667.6 786.0 667.7 785.0 668.0 797.5"/>
<path class="k" stroke-width="1" d="M672.7 719.5 C672.9 733.0 672.8 734.0 673.2 760.0 C673.6 786.0 673.7 785.0 674.0 797.5"/>
<path class="k" stroke-width="0.8" d="M657.6 736.2 H661.6"/>
</g>
<path d="M486.5 468.3 V797.5 H778.5 V468.3" fill="none" stroke="#999" stroke-width="1"/>
<circle class="k" stroke-width="1.1" cx="523.9" cy="761.2" r="18.6"/>
<text x="525.8" y="773.2" font-size="35" text-anchor="middle">3</text>
</svg>
</body></html>
